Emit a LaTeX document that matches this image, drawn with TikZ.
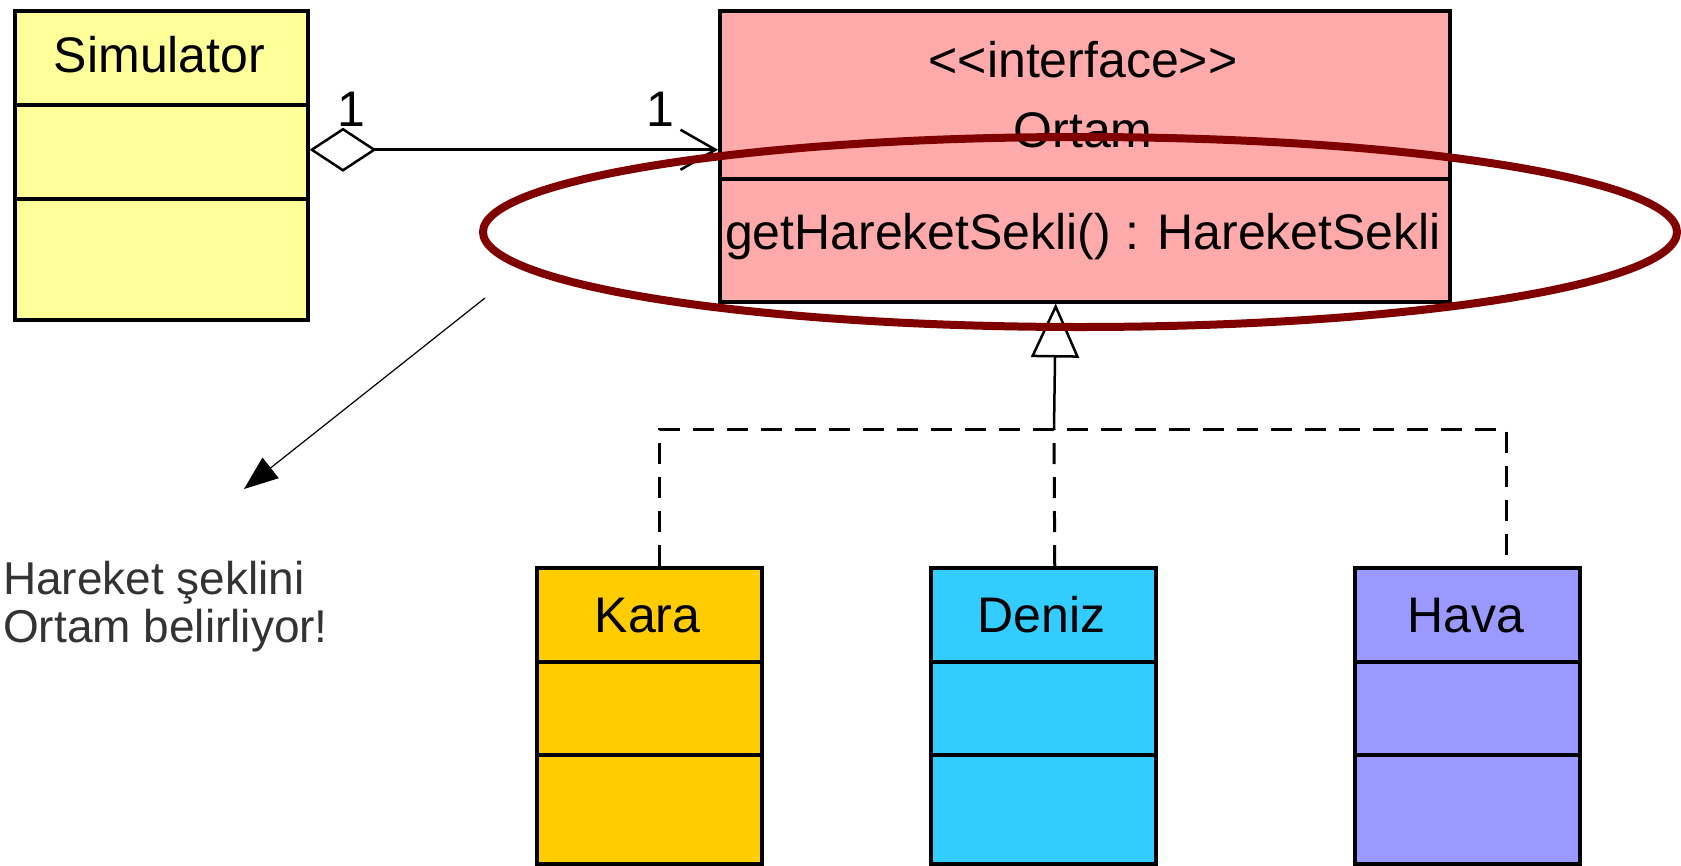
\documentclass[tikz,border=0pt]{standalone}
\usepackage{fontspec}
\setmainfont{Liberation Sans}
\usetikzlibrary{arrows.meta, positioning, calc}

\definecolor{simfill}{HTML}{FFFF99}
\definecolor{ortamfill}{HTML}{FFAAAA}
\definecolor{karafill}{HTML}{FFCC00}
\definecolor{denizfill}{HTML}{33CCFF}
\definecolor{havafill}{HTML}{9999FF}
\definecolor{ringred}{HTML}{800000}
\definecolor{notegray}{HTML}{333333}

\begin{document}
\begin{tikzpicture}[x=1pt, y=-1pt,
		classbox/.style={draw, line width=3.5pt, inner sep=0pt, anchor=north west},
		umltext/.style={inner sep=0pt, anchor=base, font=\fontsize{50}{56}\selectfont},
		divider/.style={line width=3.5pt},
		dashline/.style={line width=3pt, dash pattern=on 21pt off 13pt},
		realline/.style={line width=2.5pt, -{Triangle[open, length=54pt, width=48pt]}},
		assoc/.style={line width=3pt, {Diamond[open, length=67pt, width=44pt, line width=2.5pt]}-{Straight Barb[length=35pt, width=40pt, line width=2.5pt]}},
		notearrow/.style={line width=1.2pt, -{Triangle[length=34pt, width=26pt]}},
		notetext/.style={inner sep=0pt, align=left, text=notegray, font=\fontsize{46}{48}\selectfont}]
		\useasboundingbox (0,0) rectangle (1681,865);
		\node[classbox, fill=simfill, minimum width=293pt, minimum height=309pt] (sim) at (13,9) {};
		\node[umltext] (simname) at (159.5,72) {Simulator};
		\draw[divider] ([yshift=-96pt]sim.north west) -- ([yshift=-96pt]sim.north east);
		\draw[divider] ([yshift=-190pt]sim.north west) -- ([yshift=-190pt]sim.north east);
		\node[classbox, fill=ortamfill, minimum width=730pt, minimum height=291pt] (ortam) at (718,9) {};
		\node[umltext] (stereo) at (1083,77) {{<}{<}interface{>}{>}};
		\node[umltext] (ortamname) at (1083,147) {Ortam};
		\draw[divider] ([yshift=-170pt]ortam.north west) -- ([yshift=-170pt]ortam.north east);
		\node[umltext] (method) at (1083,249) {getHareketSekli() : HareketSekli};
		\foreach \x/\name/\col/\txt in {
			535/kara/karafill/Kara,
			929/deniz/denizfill/Deniz,
			1353/hava/havafill/Hava
		}{
			\node[classbox, fill=\col, minimum width=225pt, minimum height=296pt] (\name) at (\x,566) {};
			\node[umltext] (\name-title) at (\x+112.5,632) {\txt};
			\draw[divider] ([yshift=-96pt]\name.north west) -- ([yshift=-96pt]\name.north east);
			\draw[divider] ([yshift=-189pt]\name.north west) -- ([yshift=-189pt]\name.north east);
		}
		\draw[assoc] ([yshift=15.5pt]sim.east) -- ([yshift=6.5pt]ortam.west);
		\node[umltext] (simmult) at (351,126) {1};
		\node[umltext] (ortammult) at (660,126) {1};
		\coordinate (joint) at (1054,429);
		\draw[dashline] ([xshift=10.5pt]kara.north) |- (joint) -| ([xshift=39pt]hava.north);
		\draw[dashline] ([xshift=11.5pt]deniz.north) -- (joint);
		\draw[realline] (joint) -- ([xshift=-29pt]ortam.south);
		\draw[ringred, line width=8pt] (1080,232) ellipse [x radius=597pt, y radius=95pt];
		\coordinate (notestart) at (485,298);
		\coordinate (noteend) at (244,489);
		\draw[notearrow] (notestart) -- (noteend);
		\node[notetext, anchor=north west] (note) at (3,561) {Hareket şeklini\\Ortam belirliyor!};
\end{tikzpicture}
\end{document}
